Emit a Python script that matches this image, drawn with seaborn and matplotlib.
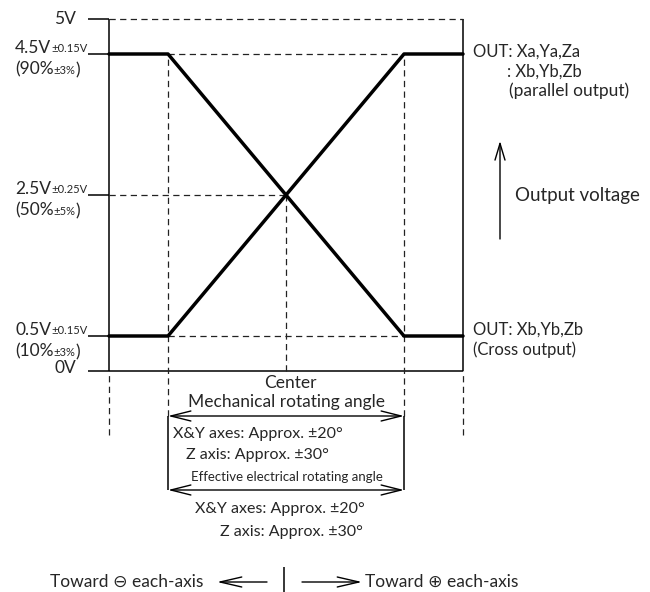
import matplotlib
matplotlib.use("Agg")
import matplotlib.pyplot as plt
import seaborn as sns

# rotating angle (deg) where the output changes: box edge / effective range edge
angles = [-30, -20, 20, 30]
parallel_v = [0.5, 0.5, 4.5, 4.5]   # OUT: Xa,Ya,Za : Xb,Yb,Zb
cross_v = [4.5, 4.5, 0.5, 0.5]      # OUT: Xb,Yb,Zb

# voltage levels on the left
level_v = [4.5, 2.5, 0.5]
level_main = ['4.5V', '2.5V', '0.5V']
level_tol = ['±0.15V', '±0.25V', '±0.15V']
level_pct = ['(90%', '(50%', '(10%']
level_pct_tol = ['±3%', '±5%', '±3%']
top_v, bottom_v = 5, 0

sns.set_theme(style="white")
plt.rcParams['font.family'] = ['Lato', 'DejaVu Sans']

fig = plt.figure(figsize=(6.5, 5.92), dpi=100)
ax = fig.add_axes([0, 0, 1, 1])
ax.set_axis_off()

# pixel helpers for layout (x: 5.9 px per degree, y: 70.5 px per volt)
def px(p):
    return (p - 286) / 5.9

def py(p):
    return 2.5 - (p - 195) / 70.5

ax.set_xlim(px(0), px(650))
ax.set_ylim(py(592), py(0))

k = 'black'
dash = dict(color='#222222', lw=0.9, ls=(0, (5, 3.5)))
solid = dict(color=k, lw=1.1)

xl, xk1, xk2, xr = angles

# frame
ax.vlines([xl, xr], bottom_v, top_v, **solid)
ax.hlines(top_v, xl, xr, **dash)
ax.hlines([top_v] + level_v, px(88), xl, **solid)
ax.hlines(bottom_v, px(88), xr, **solid)

# guide lines
ax.hlines([4.5, 0.5], xk1, xk2, **dash)
ax.hlines(2.5, xl, 0, **dash)
ax.vlines([xk1, xk2], py(416), 4.5, **dash)
ax.vlines(0, bottom_v, 2.5, **dash)
ax.vlines([xl, xr], py(435), bottom_v, **dash)

# output curves
sns.lineplot(x=angles, y=parallel_v, color=k, lw=2.5, ax=ax)
sns.lineplot(x=angles, y=cross_v, color=k, lw=2.5, ax=ax)

# angle box with arrows
ax.vlines([xk1, xk2], py(490), py(416), **solid)
for yy in [py(416), py(490)]:
    ax.annotate('', xy=(xk1, yy), xytext=(xk2, yy),
                arrowprops=dict(arrowstyle='<->,head_length=1.2,head_width=0.3',
                                lw=1.0, color=k, shrinkA=0, shrinkB=0))

fs = 12.5
fso = 12
fsa = 11.5
fst = 8
# left labels
ax.text(px(76), py(19), '5V', ha='right', va='center', fontsize=fs)
ax.text(px(76), py(368), '0V', ha='right', va='center', fontsize=fs)
for v, m, t, p, pt in zip(level_v, level_main, level_tol, level_pct, level_pct_tol):
    t1 = ax.text(px(15), v + 6 / 70.5, m, ha='left', va='center', fontsize=fs)
    ax.annotate(t, xy=(1, 0.22), xycoords=t1, ha='left', va='baseline', fontsize=fst)
    t2 = ax.text(px(15), v - 15 / 70.5, p, ha='left', va='center', fontsize=fs)
    t3 = ax.annotate(pt, xy=(1, 0.22), xycoords=t2, ha='left', va='baseline', fontsize=fst)
    ax.annotate(')', xy=(1, 0), xycoords=t3, xytext=(0, -2.4), textcoords='offset points',
                ha='left', va='bottom', fontsize=fs)

# right labels
ax.text(px(473), py(52), 'OUT: Xa,Ya,Za', ha='left', va='center', fontsize=fso)
ax.text(px(507), py(72), ': Xb,Yb,Zb', ha='left', va='center', fontsize=fso)
ax.text(px(509), py(91), '(parallel output)', ha='left', va='center', fontsize=fs)
ax.text(px(473), py(330), 'OUT: Xb,Yb,Zb', ha='left', va='center', fontsize=fso)
ax.text(px(473), py(350), '(Cross output)', ha='left', va='center', fontsize=fso)
ax.text(px(515), py(195), 'Output voltage', ha='left', va='center', fontsize=13.5)
ax.annotate('', xy=(px(500), py(141)), xytext=(px(500), py(239)),
            arrowprops=dict(arrowstyle='->,head_length=1.0,head_width=0.3',
                            lw=1.0, color=k, shrinkA=0, shrinkB=0))

# angle texts
ax.text(px(290), py(383), 'Center', ha='center', va='center', fontsize=fs)
ax.text(px(287), py(402), 'Mechanical rotating angle', ha='center', va='center', fontsize=fs)
ax.text(px(173), py(434), 'X&Y axes: Approx. ±20°', ha='left', va='center', fontsize=fsa)
ax.text(px(186), py(455), 'Z axis: Approx. ±30°', ha='left', va='center', fontsize=fsa)
ax.text(px(287), py(477), 'Effective electrical rotating angle', ha='center', va='center',
        fontsize=9.5)
ax.text(px(195), py(509), 'X&Y axes: Approx. ±20°', ha='left', va='center', fontsize=fsa)
ax.text(px(220), py(532), 'Z axis: Approx. ±30°', ha='left', va='center', fontsize=fsa)

# direction row
ax.text(px(50), py(582), 'Toward \u2296 each-axis', ha='left', va='center', fontsize=fs)
ax.text(px(365), py(582), 'Toward \u2295 each-axis', ha='left', va='center', fontsize=fs)
ax.vlines(px(284), py(592), py(567), **solid)
for a, b in [(px(267), px(217)), (px(302), px(362))]:
    ax.annotate('', xy=(b, py(582)), xytext=(a, py(582)),
                arrowprops=dict(arrowstyle='->,head_length=1.3,head_width=0.3',
                                lw=1.0, color=k, shrinkA=0, shrinkB=0))

fig.savefig('out.png', dpi=100)
